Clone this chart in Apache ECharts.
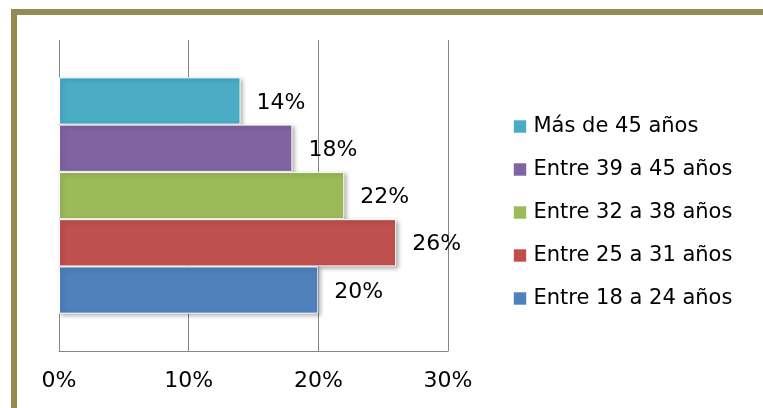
<!DOCTYPE html>
<html>
<head>
<meta charset="utf-8">
<script src="https://cdn.jsdelivr.net/npm/echarts@6/dist/echarts.min.js"></script>
<style>
  html, body { margin: 0; padding: 0; background: #ffffff; }
  #chart { width: 763px; height: 408px; }
</style>
</head>
<body>
<div id="chart"></div>
<script>
// Age groups, listed top-to-bottom as the bars stack in the category band
const ageGroups = [
  'Más de 45 años',
  'Entre 39 a 45 años',
  'Entre 32 a 38 años',
  'Entre 25 a 31 años',
  'Entre 18 a 24 años'
];
// Share of respondents per age group (%)
const shares = [14, 18, 22, 26, 20];
const groupColors = ['#4BACC6', '#8064A2', '#9BBB59', '#C0504D', '#4F81BD'];
// Percentage axis ticks
const axisMin = 0;
const axisMax = 30;
const axisStep = 10;

const FONT = 'DejaVu Sans';

const chart = echarts.init(document.getElementById('chart'), null, { renderer: 'canvas' });

const series = ageGroups.map((name, i) => ({
  name: name,
  type: 'bar',
  data: [shares[i]],
  barGap: '0%',
  barCategoryGap: '24%',
  itemStyle: {
    color: groupColors[i],
    borderColor: '#ffffff',
    borderWidth: 1,
    shadowColor: 'rgba(0,0,0,0.30)',
    shadowBlur: 4,
    shadowOffsetX: 2,
    shadowOffsetY: 2
  },
  label: {
    show: true,
    position: 'right',
    distance: 16,
    offset: [0, 2],
    formatter: '{c}%',
    fontFamily: FONT,
    fontSize: 22,
    color: '#000000'
  },
  emphasis: { disabled: true }
}));

chart.setOption({
  animation: false,
  backgroundColor: '#ffffff',
  graphic: [{
    type: 'rect',
    silent: true,
    shape: { x: 14, y: 12, width: 900, height: 600 },
    style: { fill: 'none', stroke: '#948A54', lineWidth: 6 }
  }],
  grid: { left: 59, right: 315, top: 40, bottom: 57, containLabel: false },
  legend: {
    orient: 'vertical',
    left: 513,
    top: 116,
    padding: 0,
    icon: 'rect',
    itemWidth: 13,
    itemHeight: 13,
    itemGap: 22,
    selectedMode: false,
    data: ageGroups,
    itemStyle: { borderWidth: 1, borderColor: 'rgba(255,255,255,0.6)', shadowBlur: 0, shadowOffsetX: 0, shadowOffsetY: 0 },
    textStyle: {
      fontFamily: FONT,
      fontSize: 21,
      color: '#000000',
      padding: [0, 0, 0, 2]
    }
  },
  xAxis: {
    type: 'value',
    min: axisMin,
    max: axisMax,
    interval: axisStep,
    axisLine: { show: true, lineStyle: { color: '#868686', width: 1 } },
    axisTick: { show: false },
    splitLine: { show: true, lineStyle: { color: '#868686', width: 1 } },
    axisLabel: {
      formatter: '{value}%',
      fontFamily: FONT,
      fontSize: 22,
      color: '#000000',
      margin: 19
    }
  },
  yAxis: {
    type: 'category',
    data: [''],
    axisLine: { show: false },
    axisTick: { show: false },
    axisLabel: { show: false },
    splitLine: { show: false }
  },
  series: series
});
</script>
</body>
</html>
